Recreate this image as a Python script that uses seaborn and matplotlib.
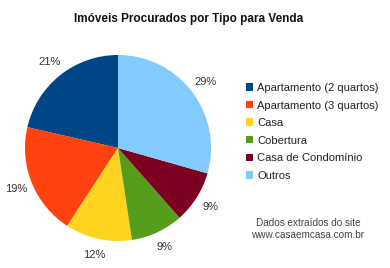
import matplotlib
matplotlib.use("Agg")
import matplotlib.pyplot as plt
import seaborn as sns

categories = ["Apartamento (2 quartos)", "Apartamento (3 quartos)", "Casa",
              "Cobertura", "Casa de Condomínio", "Outros"]
values = [21.4, 19.4, 11.6, 9.1, 9.1, 29.4]
colors = ["#004586", "#ff420e", "#ffd320", "#579d1c", "#7e0021", "#83caff"]
title = "Imóveis Procurados por Tipo para Venda"
note = "Dados extraídos do site\nwww.casaemcasa.com.br"

sns.set_theme(style="white")
plt.rcParams["font.family"] = ["Liberation Sans", "DejaVu Sans"]

fig = plt.figure(figsize=(3.9, 2.68), dpi=100)
fig.patch.set_facecolor("white")
ax = fig.add_axes([25 / 390, 27 / 268, 186 / 390, 186 / 268])
palette = sns.color_palette(colors)
wedges, texts, autotexts = ax.pie(values, colors=palette, startangle=90,
                                  counterclock=True, autopct="%.0f%%",
                                  pctdistance=1.18, radius=1,
                                  wedgeprops=dict(linewidth=0),
                                  textprops=dict(fontsize=8, color="#333333"))
ax.set_xlim(-1, 1)
ax.set_ylim(-1, 1)
ax.set_aspect("equal")
ax.axis("off")

fig.text(188.5 / 390, 1 - 19 / 268, title, ha="center", va="center",
         fontsize=8.5, fontweight="bold", color="#111111")

leg = fig.legend(wedges, categories, loc="upper left",
                 bbox_to_anchor=(246 / 390, 1 - 83 / 268), frameon=False,
                 fontsize=8.0, handlelength=0.65, handleheight=0.65,
                 handletextpad=0.35, labelspacing=0.68, borderaxespad=0,
                 borderpad=0)
for t in leg.get_texts():
    t.set_color("#222222")

fig.text(308 / 390, 1 - 229 / 268, note, ha="center", va="center",
         fontsize=7.2, color="#444444", linespacing=1.2)

fig.savefig("out.png", dpi=100)
